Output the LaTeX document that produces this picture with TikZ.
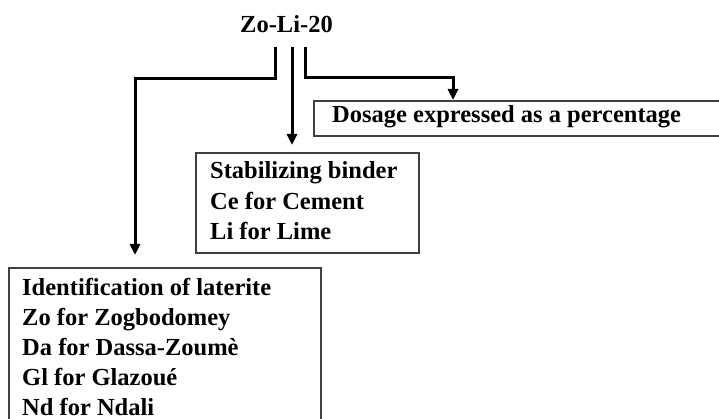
\documentclass[tikz,border=0pt]{standalone}
\usepackage{fontspec}
\setmainfont{Liberation Serif}
\usetikzlibrary{arrows.meta}
\begin{document}
\begin{tikzpicture}[x=1pt,y=-1pt,
  box/.style={draw=black!75, line width=1.6pt, inner sep=0pt, anchor=north west},
  txt/.style={anchor=base west, inner sep=0pt, font=\fontsize{24.5}{30.5}\selectfont\bfseries},
  conn/.style={line width=3pt, -{Triangle[length=11pt,width=10pt]}}]
\useasboundingbox (0,0) rectangle (719,419);
% boxes
\node[box, minimum width=223pt, minimum height=100pt] (bind) at (195,152) {};
\node[box, minimum width=420pt, minimum height=35pt] (dose) at (313,100.5) {};
\node[box, minimum width=312pt, minimum height=200pt] (lat) at (8,267) {};
% title
\node[txt, anchor=base] (title) at (286.5,33) {Zo-Li-20};
% texts
\node[txt] (d1) at (332,123) {Dosage expressed as a percentage};
\node[txt] (b1) at (210,179) {Stabilizing binder};
\node[txt] (b2) at (210,209.5) {Ce for Cement};
\node[txt] (b3) at (210,240) {Li for Lime};
\node[txt] (l1) at (22,295) {Identification of laterite};
\node[txt] (l2) at (22,325.2) {Zo for Zogbodomey};
\node[txt] (l3) at (22,355.4) {Da for Dassa-Zoumè};
\node[txt] (l4) at (22,385.6) {Gl for Glazoué};
\node[txt, text depth=0pt] (l5) at (22,415) {Nd for Ndali};
% connectors
\coordinate (a1) at (275,47);
\coordinate (a2) at (292,47);
\coordinate (a3) at (305,47);
\coordinate (k1) at (135,79);
\coordinate (k3) at (453,78);
\draw[conn] (a1) |- (k1) -- ([yshift=12pt]lat.north -| k1);
\draw[conn] (a2) -- ([yshift=7pt]bind.north -| a2);
\draw[conn] (a3) |- (k3) -- ([yshift=0.5pt]dose.north -| k3);
\end{tikzpicture}
\end{document}
